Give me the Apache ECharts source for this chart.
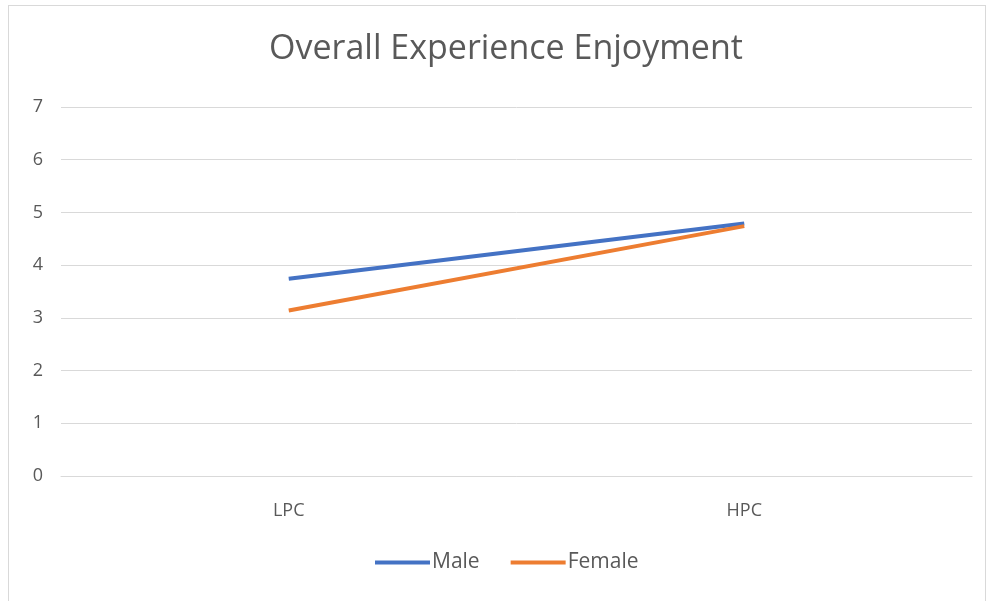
<!DOCTYPE html>
<html>
<head>
<meta charset="utf-8">
<script src="https://cdn.jsdelivr.net/npm/echarts@6/dist/echarts.min.js"></script>
<style>
  html, body { margin: 0; padding: 0; background: #ffffff; }
  #frame { position: absolute; left: 8px; top: 5px; width: 978px; height: 600px; border: 1px solid #d9d9d9; box-sizing: border-box; }
  #chart { position: absolute; left: 0; top: 0; width: 994px; height: 601px; }
</style>
</head>
<body>
<div id="frame"></div>
<div id="chart"></div>
<script>
const categories = ['LPC', 'HPC'];
const maleValues = [3.74, 4.79];
const femaleValues = [3.14, 4.74];
const yTicks = { min: 0, max: 7, interval: 1 };

const chart = echarts.init(document.getElementById('chart'), null, { renderer: 'canvas' });
const textColor = '#595959';
const font = '"Open Sans", sans-serif';

chart.setOption({
  animation: false,
  title: {
    text: 'Overall Experience Enjoyment',
    left: 269,
    top: 32,
    padding: 0,
    textStyle: { fontFamily: font, fontWeight: 'normal', fontSize: 34, color: textColor }
  },
  legend: {
    bottom: 23,
    left: 370,
    itemWidth: 55,
    itemHeight: 4,
    itemGap: 31,
    icon: 'rect',
    textStyle: { fontFamily: font, fontSize: 21, color: textColor, padding: [0, 0, 0, -3] },
    data: ['Male', 'Female']
  },
  grid: { left: 61, right: 22, top: 107, bottom: 125 },
  xAxis: {
    type: 'category',
    data: categories,
    boundaryGap: true,
    axisLine: { show: true, lineStyle: { color: '#d9d9d9', width: 1 } },
    axisTick: { show: false },
    axisLabel: { margin: 26, fontFamily: font, fontSize: 18, color: textColor }
  },
  yAxis: {
    type: 'value',
    min: yTicks.min,
    max: yTicks.max,
    interval: yTicks.interval,
    axisLine: { show: false },
    axisTick: { show: false },
    splitLine: { lineStyle: { color: '#d9d9d9', width: 1 } },
    axisLabel: { margin: 18, fontFamily: font, fontSize: 18, color: textColor }
  },
  series: [
    {
      name: 'Male', type: 'line', data: maleValues,
      symbol: 'none', lineStyle: { width: 4, color: '#4472C4' }, itemStyle: { color: '#4472C4' }
    },
    {
      name: 'Female', type: 'line', data: femaleValues,
      symbol: 'none', lineStyle: { width: 4, color: '#ED7D31' }, itemStyle: { color: '#ED7D31' }
    }
  ]
});
</script>
</body>
</html>
